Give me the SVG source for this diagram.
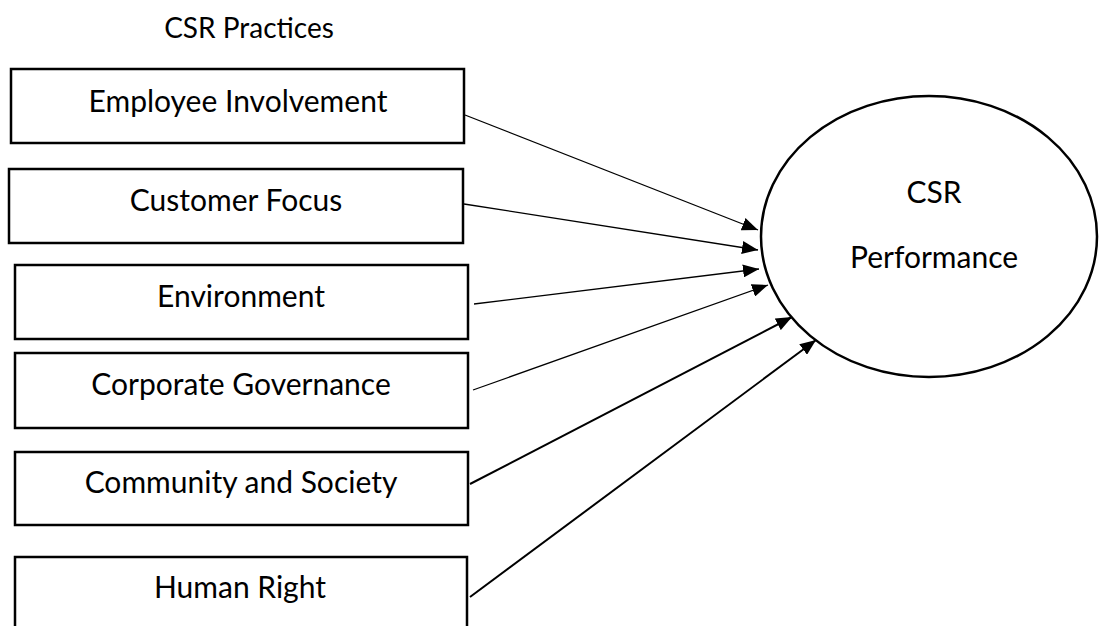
<svg xmlns="http://www.w3.org/2000/svg" width="1100" height="626" viewBox="0 0 1100 626">
<style>
.box{fill:#fff;stroke:#000;stroke-width:2.5}
.lbl{font-family:Lato,"Open Sans","Liberation Sans",sans-serif;font-size:30px;fill:#000;text-anchor:middle}
.conn{stroke:#000;stroke-width:1.3;fill:none}
.thick{stroke-width:2}
</style>
<defs>
<marker id="ah" markerUnits="userSpaceOnUse" markerWidth="16" markerHeight="13" refX="16" refY="6.5" orient="auto" viewBox="0 0 16 13">
<path d="M0,0 L16,6.5 L0,13 z" fill="#000"/>
</marker>
</defs>
<rect width="1100" height="626" fill="#fff"/>
<text class="lbl" x="249" y="38" style="font-size:28px">CSR Practices</text>
<g id="n-employee"><rect class="box" x="11" y="69" width="453" height="74"/><text class="lbl" x="238" y="112">Employee Involvement</text></g>
<g id="n-customer"><rect class="box" x="9" y="169" width="454" height="74"/><text class="lbl" x="236" y="211">Customer Focus</text></g>
<g id="n-environment"><rect class="box" x="15" y="265" width="453" height="74"/><text class="lbl" x="241" y="307">Environment</text></g>
<g id="n-governance"><rect class="box" x="15" y="353" width="453" height="75"/><text class="lbl" x="241" y="395">Corporate Governance</text></g>
<g id="n-community"><rect class="box" x="15" y="452" width="453" height="73"/><text class="lbl" x="241" y="493">Community and Society</text></g>
<g id="n-human"><rect class="box" x="15" y="557" width="452" height="90"/><text class="lbl" x="240" y="598">Human Right</text></g>
<g id="n-performance"><ellipse class="box" cx="929" cy="236.5" rx="168" ry="140.5"/><text class="lbl" x="934" y="203">CSR</text><text class="lbl" x="934" y="268">Performance</text></g>
<g id="connectors">
<line class="conn" x1="465" y1="115" x2="758" y2="230" marker-end="url(#ah)"/>
<line class="conn" x1="464" y1="204" x2="758" y2="250" marker-end="url(#ah)"/>
<line class="conn" x1="474" y1="304" x2="759" y2="269" marker-end="url(#ah)"/>
<line class="conn" x1="473" y1="390" x2="768" y2="285" marker-end="url(#ah)"/>
<line class="conn thick" x1="470" y1="484" x2="792" y2="317" marker-end="url(#ah)"/>
<line class="conn thick" x1="470" y1="597" x2="816" y2="340" marker-end="url(#ah)"/>
</g>
</svg>
